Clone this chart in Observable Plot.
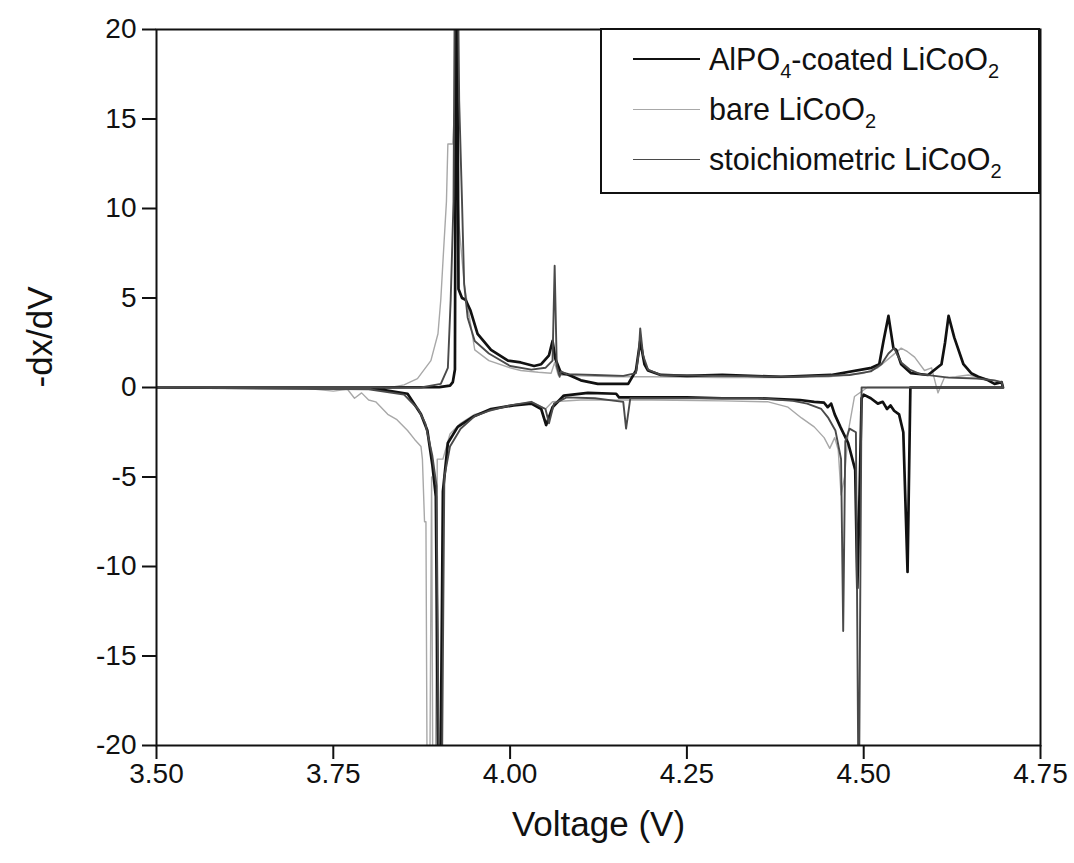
<!DOCTYPE html>
<html>
<head>
<meta charset="utf-8">
<script src="https://cdn.jsdelivr.net/npm/d3@7"></script>
<script src="https://cdn.jsdelivr.net/npm/@observablehq/plot@0.6"></script>
<style>
  html, body { margin: 0; padding: 0; background: #fff; }
  #wrap { position: relative; width: 1074px; height: 863px; font-family: "Liberation Sans", Arial, sans-serif; }
  #legend { position: absolute; left: 600px; top: 28px; width: 440px; height: 166px; box-sizing: border-box;
            border: 2px solid #111; background: #fff; }
  .row { position: absolute; left: 31px; height: 40px; display: flex; align-items: center; white-space: nowrap; }
  .swatch { width: 67px; height: 0; margin-right: 9px; }
  .lab { font-size: 30.5px; color: #111; line-height: 40px; }
  .lab sub { font-size: 20px; vertical-align: -0.4em; line-height: 0; }
</style>
</head>
<body>
<div id="wrap"><div id="legend"></div></div>
<script>
// Differential capacity (-dx/dV) of three LiCoO2 cathodes: charge branch (positive)
// followed by discharge branch (negative), each traced as one continuous path.

const seriesNames = ["AlPO4-coated LiCoO2", "bare LiCoO2", "stoichiometric LiCoO2"];
const seriesColors = ["#111111", "#a8a8a8", "#4a4a4a"];
const seriesWidths = [2.7, 1.4, 1.9];

const xTicks = [3.5, 3.75, 4.0, 4.25, 4.5, 4.75];
const yTicks = [-20, -15, -10, -5, 0, 5, 10, 15, 20];

// AlPO4-coated LiCoO2
const voltCoated = [
  3.50, 3.80, 3.90, 3.915, 3.919, 3.922, 3.9235, 3.925, 3.927, 3.932, 3.937, 3.944, 3.954, 3.973, 3.997,
  4.015, 4.034, 4.044, 4.055, 4.060, 4.064, 4.067, 4.072, 4.080, 4.100, 4.124, 4.150, 4.167, 4.178, 4.184,
  4.190, 4.195, 4.213, 4.250, 4.300, 4.383, 4.454, 4.511, 4.522, 4.528, 4.535, 4.542, 4.546, 4.553, 4.567,
  4.591, 4.610, 4.615, 4.620, 4.628, 4.641, 4.652, 4.662, 4.676, 4.685, 4.695,
  4.697, 4.566, 4.562, 4.556, 4.550, 4.543, 4.538, 4.533, 4.527, 4.520, 4.510, 4.500, 4.497, 4.493, 4.491,
  4.488, 4.478, 4.467, 4.459, 4.454, 4.449, 4.444, 4.430, 4.410, 4.380, 4.350, 4.300, 4.250, 4.200, 4.154,
  4.150, 4.110, 4.076, 4.060, 4.051, 4.044, 4.030, 4.005, 3.973, 3.949, 3.926, 3.912, 3.905, 3.901, 3.899,
  3.895, 3.890, 3.883, 3.874, 3.855, 3.807, 3.50
];
const dxdvCoated = [
  0, 0, 0.02, 0.1, 0.3, 1.0, 24, 24, 5.5, 5.0, 4.9, 4.3, 3.0, 2.1, 1.5,
  1.4, 1.2, 1.3, 1.8, 2.6, 1.6, 1.3, 0.8, 0.75, 0.4, 0.2, 0.2, 0.2, 0.95, 2.6,
  1.3, 0.95, 0.7, 0.65, 0.7, 0.6, 0.7, 1.1, 1.3, 2.6, 4.0, 2.2, 2.1, 1.3, 0.8,
  0.7, 1.3, 2.5, 4.0, 2.8, 1.3, 0.8, 0.6, 0.4, 0.2, 0.3,
  0, 0, -10.3, -2.5, -1.5, -1.3, -1.0, -1.2, -0.8, -0.9, -0.6, -0.4, -0.6, -8, -11.2,
  -4.6, -3.1, -2.2, -1.5, -0.9, -1.1, -0.85, -0.8, -0.7, -0.65, -0.6, -0.6, -0.55, -0.55, -0.55,
  -0.35, -0.3, -0.45, -1.1, -2.1, -1.2, -0.9, -1.0, -1.2, -1.6, -2.2, -3.1, -5.8, -25, -25,
  -6.1, -4.3, -2.4, -1.5, -0.35, -0.05, 0
];

// bare LiCoO2
const voltBare = [
  3.50, 3.831, 3.850, 3.869, 3.888, 3.898, 3.902, 3.906, 3.910, 3.912, 3.919, 3.921, 3.924, 3.928, 3.935,
  3.950, 3.970, 4.000, 4.015, 4.040, 4.058, 4.063, 4.068, 4.100, 4.150, 4.200, 4.300, 4.380, 4.450, 4.500,
  4.520, 4.535, 4.553, 4.562, 4.572, 4.586, 4.596, 4.605, 4.614, 4.630, 4.648, 4.671, 4.695,
  4.697, 4.505, 4.487, 4.478, 4.473, 4.468, 4.464, 4.459, 4.452, 4.444, 4.430, 4.412, 4.393, 4.365, 4.300,
  4.200, 4.100, 4.060, 4.050, 4.030, 4.000, 3.970, 3.950, 3.930, 3.915, 3.905, 3.897, 3.894, 3.891, 3.889,
  3.886, 3.883, 3.881, 3.879, 3.876, 3.874, 3.865, 3.855, 3.840, 3.827, 3.810, 3.800, 3.790, 3.780, 3.770,
  3.750, 3.700, 3.50
];
const dxdvBare = [
  0, 0, 0.15, 0.5, 1.5, 3.0, 4.9, 7.7, 10.4, 13.6, 13.6, 15.3, 13, 9, 5.8,
  2.1, 1.5, 1.1, 0.95, 0.85, 0.8, 1.4, 0.7, 0.65, 0.6, 0.6, 0.55, 0.55, 0.6, 0.8,
  1.1, 1.6, 2.2, 2.0, 1.7, 0.95, 1.1, -0.3, 0.55, 0.6, 0.7, 0.5, 0.3,
  0, 0, -0.5, -2.5, -5, -6, -3.5, -2.8, -3.4, -2.8, -2.2, -1.7, -1.1, -0.8, -0.75,
  -0.7, -0.7, -0.8, -1.2, -0.8, -1.0, -1.3, -1.5, -2.0, -2.6, -4, -4, -25, -25, -5,
  -25, -25, -7.5, -7.5, -4, -3.3, -2.9, -2.4, -1.8, -1.5, -0.8, -0.7, -0.3, -0.6, -0.1,
  -0.2, 0, 0
];

// stoichiometric LiCoO2
const voltStoich = [
  3.50, 3.874, 3.902, 3.912, 3.916, 3.920, 3.922, 3.926, 3.928, 3.932, 3.935, 3.940, 3.950, 3.970, 4.000,
  4.030, 4.050, 4.060, 4.063, 4.066, 4.070, 4.072, 4.080, 4.120, 4.160, 4.178, 4.182, 4.184, 4.188, 4.195,
  4.213, 4.300, 4.400, 4.480, 4.510, 4.525, 4.535, 4.543, 4.548, 4.553, 4.565, 4.580, 4.620, 4.660, 4.685,
  4.695,
  4.697, 4.497, 4.493, 4.489, 4.480, 4.474, 4.471, 4.468, 4.460, 4.450, 4.440, 4.420, 4.400, 4.350, 4.300,
  4.250, 4.200, 4.170, 4.164, 4.160, 4.120, 4.080, 4.062, 4.055, 4.050, 4.030, 4.000, 3.970, 3.950, 3.930,
  3.915, 3.907, 3.903, 3.900, 3.896, 3.890, 3.880, 3.870, 3.850, 3.800, 3.50
];
const dxdvStoich = [
  0, 0, 0.2, 1.1, 4.9, 10.4, 24, 24, 16, 10.4, 5.8, 3.9, 2.6, 1.9, 1.2,
  1.0, 1.1, 1.5, 6.8, 1.2, 0.6, 0.9, 0.75, 0.7, 0.65, 0.8, 2.0, 3.3, 1.8, 1.0,
  0.7, 0.65, 0.6, 0.7, 0.9, 1.3, 1.9, 2.2, 1.8, 1.4, 1.0, 0.75, 0.55, 0.5, 0.4,
  0.3,
  0, 0, -25, -2.5, -2.3, -3, -13.6, -4, -2.4, -1.7, -1.2, -0.9, -0.75, -0.6, -0.6,
  -0.6, -0.6, -0.6, -2.3, -0.8, -0.6, -0.55, -0.9, -2.0, -1.2, -0.8, -1.0, -1.3, -1.6, -2.3,
  -3.3, -5.0, -25, -25, -5.5, -3.8, -2.0, -1.2, -0.4, -0.1, 0
];

const toPoints = (vs, ds) => vs.map((v, i) => ({v, d: ds[i]}));
const coated = toPoints(voltCoated, dxdvCoated);
const bare = toPoints(voltBare, dxdvBare);
const stoich = toPoints(voltStoich, dxdvStoich);

const font = "'Liberation Sans', Arial, sans-serif";

const chart = Plot.plot({
  width: 1074,
  height: 863,
  marginLeft: 156,
  marginRight: 34,
  marginTop: 29,
  marginBottom: 118,
  style: {fontFamily: font, background: "white", color: "#111", overflow: "visible"},
  x: {domain: [3.5, 4.75]},
  y: {domain: [-20, 20]},
  marks: [
    Plot.line(bare, {x: "v", y: "d", stroke: seriesColors[1], strokeWidth: seriesWidths[1], clip: true}),
    Plot.line(coated, {x: "v", y: "d", stroke: seriesColors[0], strokeWidth: seriesWidths[0], clip: true}),
    Plot.line(stoich, {x: "v", y: "d", stroke: seriesColors[2], strokeWidth: seriesWidths[2], clip: true}),
    Plot.frame({stroke: "#111", strokeWidth: 2}),
    Plot.axisX({ticks: xTicks, tickFormat: d3.format(".2f"), tickSize: 14, tickPadding: 4,
                fontSize: 28, strokeWidth: 2, label: null}),
    Plot.axisY({ticks: yTicks, tickFormat: d => String(d), tickSize: 14, tickPadding: 6,
                fontSize: 28, strokeWidth: 2, label: null}),
    Plot.text(["Voltage (V)"], {frameAnchor: "bottom", dy: 90, fontSize: 35, fill: "#111"}),
    Plot.text(["-dx/dV"], {frameAnchor: "left", dx: -116, rotate: -90, fontSize: 35, fill: "#111"})
  ]
});

const wrap = document.getElementById("wrap");
wrap.insertBefore(chart, wrap.firstChild);

// Legend: line swatch plus label with chemical subscripts
const legend = document.getElementById("legend");
const subscript = s => s.replace(/([A-Za-z])(\d+)/g, "$1<sub>$2</sub>");
seriesNames.forEach((name, i) => {
  const row = document.createElement("div");
  row.className = "row";
  row.style.top = (9 + i * 50) + "px";
  const sw = document.createElement("div");
  sw.className = "swatch";
  sw.style.borderTop = seriesWidths[i] + "px solid " + seriesColors[i];
  const lab = document.createElement("span");
  lab.className = "lab";
  lab.innerHTML = subscript(name);
  row.appendChild(sw);
  row.appendChild(lab);
  legend.appendChild(row);
});
</script>
</body>
</html>
